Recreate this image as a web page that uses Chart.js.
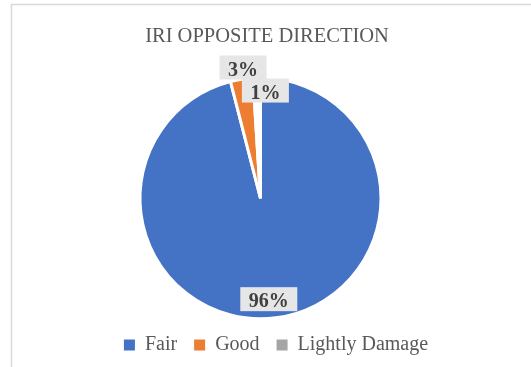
<!DOCTYPE html>
<html>
<head>
<meta charset="utf-8">
<title>IRI Opposite Direction</title>
<script src="https://cdn.jsdelivr.net/npm/chart.js@4"></script>
<style>
  html, body { margin: 0; padding: 0; background: #ffffff; }
  #wrap { position: relative; width: 531px; height: 367px; }
</style>
</head>
<body>
<div id="wrap"><canvas id="pie" width="531" height="367"></canvas></div>
<script>
// Road condition shares (percent of length), opposite direction
const categories = ['Fair', 'Good', 'Lightly Damage'];
const shares = [96, 3, 1];

// Slice fills and legend swatches
const sliceColors = ['#4472C4', '#ED7D31', '#FFFFFF'];
const legendColors = ['#4472C4', '#ED7D31', '#A5A5A5'];

// Value label placement: fraction of the outer radius, angular nudge in degrees
const labelRadius = [0.84, 1.095, 0.895];
const labelShift = [2.5, 1.4, 4.4];

const SERIF = '"Liberation Serif", "Times New Roman", serif';

// Thin grey frame around the chart
const frame = {
  id: 'frame',
  beforeDraw(chart) {
    const ctx = chart.ctx;
    ctx.save();
    ctx.strokeStyle = '#D9D9D9';
    ctx.lineWidth = 1.5;
    ctx.strokeRect(11.5, 4.5, 600, 500);
    ctx.restore();
  }
};

// Nudge the pie, title and legend to their places after layout
const placement = {
  id: 'placement',
  afterLayout(chart) {
    const a = chart.chartArea;
    a.left -= 5; a.right -= 5;
    if (chart.legend) { chart.legend.left += 10.5; chart.legend.right += 10.5; }
    if (chart.titleBlock) { chart.titleBlock.left += 1.5; chart.titleBlock.right += 1.5; }
  }
};

// Percentage labels on grey boxes
const valueLabels = {
  id: 'valueLabels',
  afterDatasetsDraw(chart) {
    const ctx = chart.ctx;
    const meta = chart.getDatasetMeta(0);
    const data = chart.data.datasets[0].data;
    const total = data.reduce((s, v) => s + v, 0);
    ctx.save();
    ctx.font = 'bold 20px ' + SERIF;
    ctx.textAlign = 'center';
    ctx.textBaseline = 'alphabetic';
    meta.data.forEach((arc, i) => {
      const p = arc.getProps(['x', 'y', 'startAngle', 'endAngle', 'outerRadius'], true);
      const mid = (p.startAngle + p.endAngle) / 2 + labelShift[i] * Math.PI / 180;
      const r = p.outerRadius * labelRadius[i];
      const cx = p.x + Math.cos(mid) * r;
      const cy = p.y + Math.sin(mid) * r;
      const text = Math.round(data[i] / total * 100) + '%';
      const w = ctx.measureText(text).width + 17;
      const h = 24;
      ctx.fillStyle = '#E7E6E6';
      ctx.fillRect(cx - w / 2, cy - h / 2, w, h);
      ctx.fillStyle = '#404040';
      ctx.fillText(text, cx, cy + 8);
    });
    ctx.restore();
  }
};

new Chart(document.getElementById('pie'), {
  type: 'pie',
  data: {
    labels: categories,
    datasets: [{
      data: shares,
      backgroundColor: sliceColors,
      borderColor: '#FFFFFF',
      borderWidth: 3
    }]
  },
  options: {
    responsive: false,
    devicePixelRatio: 1,
    animation: false,
    events: [],
    radius: 120.5,
    layout: { padding: { top: 0, bottom: 2, left: 0, right: 0 } },
    plugins: {
      title: {
        display: true,
        text: 'IRI OPPOSITE DIRECTION',
        color: '#595959',
        font: { family: SERIF, size: 20.5, weight: 'normal' },
        padding: { top: 24, bottom: 30 }
      },
      legend: {
        position: 'bottom',
        labels: {
          boxWidth: 11,
          boxHeight: 11,
          padding: 17,
          color: '#595959',
          font: { family: SERIF, size: 20 },
          generateLabels() {
            return categories.map((c, i) => ({
              text: c,
              fillStyle: legendColors[i],
              strokeStyle: legendColors[i],
              lineWidth: 0,
              hidden: false,
              index: i,
              fontColor: '#595959'
            }));
          }
        }
      },
      tooltip: { enabled: false }
    }
  },
  plugins: [frame, placement, valueLabels]
});
</script>
</body>
</html>
